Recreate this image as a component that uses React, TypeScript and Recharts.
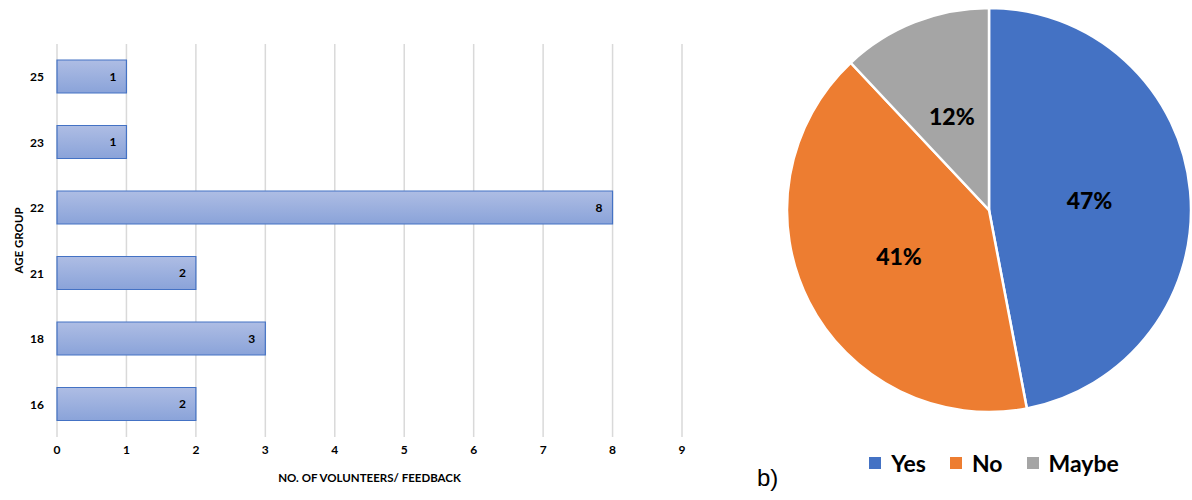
import React from "react";
import {
  BarChart,
  Bar,
  XAxis,
  YAxis,
  CartesianGrid,
  LabelList,
  Label,
  PieChart,
  Pie,
  Cell,
  Legend,
} from "recharts";

const ageGroups = ["25", "23", "22", "21", "18", "16"];
const volunteers = [1, 1, 8, 2, 3, 2];
const xTicks = [0, 1, 2, 3, 4, 5, 6, 7, 8, 9];

const feedbackLabels = ["Yes", "No", "Maybe"];
const feedbackValues = [47, 41, 12];
const feedbackColors = ["#4472c4", "#ed7d31", "#a5a5a5"];

const barData = ageGroups.map((age, i) => ({ age, count: volunteers[i] }));
const pieData = feedbackLabels.map((name, i) => ({ name, value: feedbackValues[i] }));

const FONT = "Lato, 'Open Sans', sans-serif";
const RAD = Math.PI / 180;

const renderPieLabel = (props: any) => {
  const { cx, cy, midAngle, outerRadius, value } = props;
  const r = outerRadius * 0.5;
  const x = cx + r * Math.cos(-midAngle * RAD);
  const y = cy + r * Math.sin(-midAngle * RAD);
  return (
    <text
      x={x}
      y={y}
      textAnchor="middle"
      dominantBaseline="central"
      fill="#000"
      fontFamily={FONT}
      fontWeight={900}
      fontSize={23}
    >
      {`${value}%`}
    </text>
  );
};

const renderLegend = () => {
  return (
    <div
      style={{
        display: "flex",
        justifyContent: "center",
        alignItems: "center",
        fontFamily: FONT,
        fontWeight: 700,
        fontSize: 23,
        color: "#000",
      }}
    >
      {feedbackLabels.map((name, i) => (
        <div
          key={name}
          style={{
            display: "flex",
            alignItems: "center",
            marginRight: i < feedbackLabels.length - 1 ? 24 : 0,
          }}
        >
          <span
            style={{
              display: "inline-block",
              width: 12,
              height: 12,
              background: feedbackColors[i],
              marginRight: 10,
            }}
          />
          <span>{name}</span>
        </div>
      ))}
    </div>
  );
};

export default function App() {
  return (
    <div
      style={{
        position: "absolute",
        left: 0,
        top: 0,
        width: 1192,
        height: 500,
        background: "#fff",
        fontFamily: FONT,
      }}
    >
      <div style={{ position: "absolute", left: 0, top: 0 }}>
        <BarChart
          width={720}
          height={500}
          data={barData}
          layout="vertical"
          margin={{ top: 44, right: 38, left: 0, bottom: 0 }}
          barCategoryGap={0}
        >
          <defs>
            <linearGradient id="barGrad" x1="0" y1="0" x2="0" y2="1">
              <stop offset="0%" stopColor="#aebde4" />
              <stop offset="100%" stopColor="#8aa3d9" />
            </linearGradient>
          </defs>
          <CartesianGrid horizontal={false} stroke="#d9d9d9" strokeWidth={1.5} />
          <XAxis
            type="number"
            domain={[0, 9]}
            ticks={xTicks}
            interval={0}
            axisLine={false}
            tickLine={false}
            height={63}
            tick={{ fill: "#000", fontSize: 12, fontWeight: 700, fontFamily: FONT }}
          >
            <Label
              value="NO. OF VOLUNTEERS/ FEEDBACK"
              position="insideBottom"
              offset={18}
              fill="#000"
              fontSize={11.5}
              fontWeight={700}
              fontFamily={FONT}
            />
          </XAxis>
          <YAxis
            type="category"
            dataKey="age"
            width={57}
            axisLine={false}
            tickLine={false}
            tickMargin={7}
            tick={{ fill: "#000", fontSize: 12, fontWeight: 700, fontFamily: FONT }}
          >
            <Label
              content={(p: any) => {
                const vb = p.viewBox || {};
                const x = (vb.x || 0) + 18;
                const y = (vb.y || 0) + (vb.height || 0) / 2;
                return (
                  <text
                    x={x}
                    y={y}
                    transform={`rotate(-90, ${x}, ${y})`}
                    textAnchor="middle"
                    dominantBaseline="central"
                    fill="#000"
                    fontSize={11.5}
                    fontWeight={700}
                    fontFamily={FONT}
                  >
                    AGE GROUP
                  </text>
                );
              }}
            />
          </YAxis>
          <Bar
            dataKey="count"
            barSize={33}
            fill="url(#barGrad)"
            stroke="#4472c4"
            strokeWidth={1.2}
            isAnimationActive={false}
          >
            <LabelList
              dataKey="count"
              position="insideRight"
              offset={10}
              fill="#000"
              fontSize={12}
              fontWeight={700}
              fontFamily={FONT}
            />
          </Bar>
        </BarChart>
      </div>

      <div style={{ position: "absolute", left: 720, top: 0 }}>
        <PieChart width={472} height={500} margin={{ top: 0, right: 0, bottom: 0, left: 0 }}>
          <Pie
            data={pieData}
            dataKey="value"
            nameKey="name"
            cx={269}
            cy={210}
            outerRadius={202}
            startAngle={90}
            endAngle={-270}
            stroke="#fff"
            strokeWidth={2.5}
            label={renderPieLabel}
            labelLine={false}
            isAnimationActive={false}
          >
            {pieData.map((d, i) => (
              <Cell key={d.name} fill={feedbackColors[i]} />
            ))}
          </Pie>
          <Legend
            content={renderLegend}
            wrapperStyle={{ left: 38, top: 449, width: 472 }}
          />
        </PieChart>
      </div>

      <div
        style={{
          position: "absolute",
          left: 757,
          top: 464,
          fontFamily: "'Liberation Sans', Arial, sans-serif",
          fontSize: 24,
          lineHeight: "28px",
          color: "#000",
        }}
      >
        b)
      </div>
    </div>
  );
}
